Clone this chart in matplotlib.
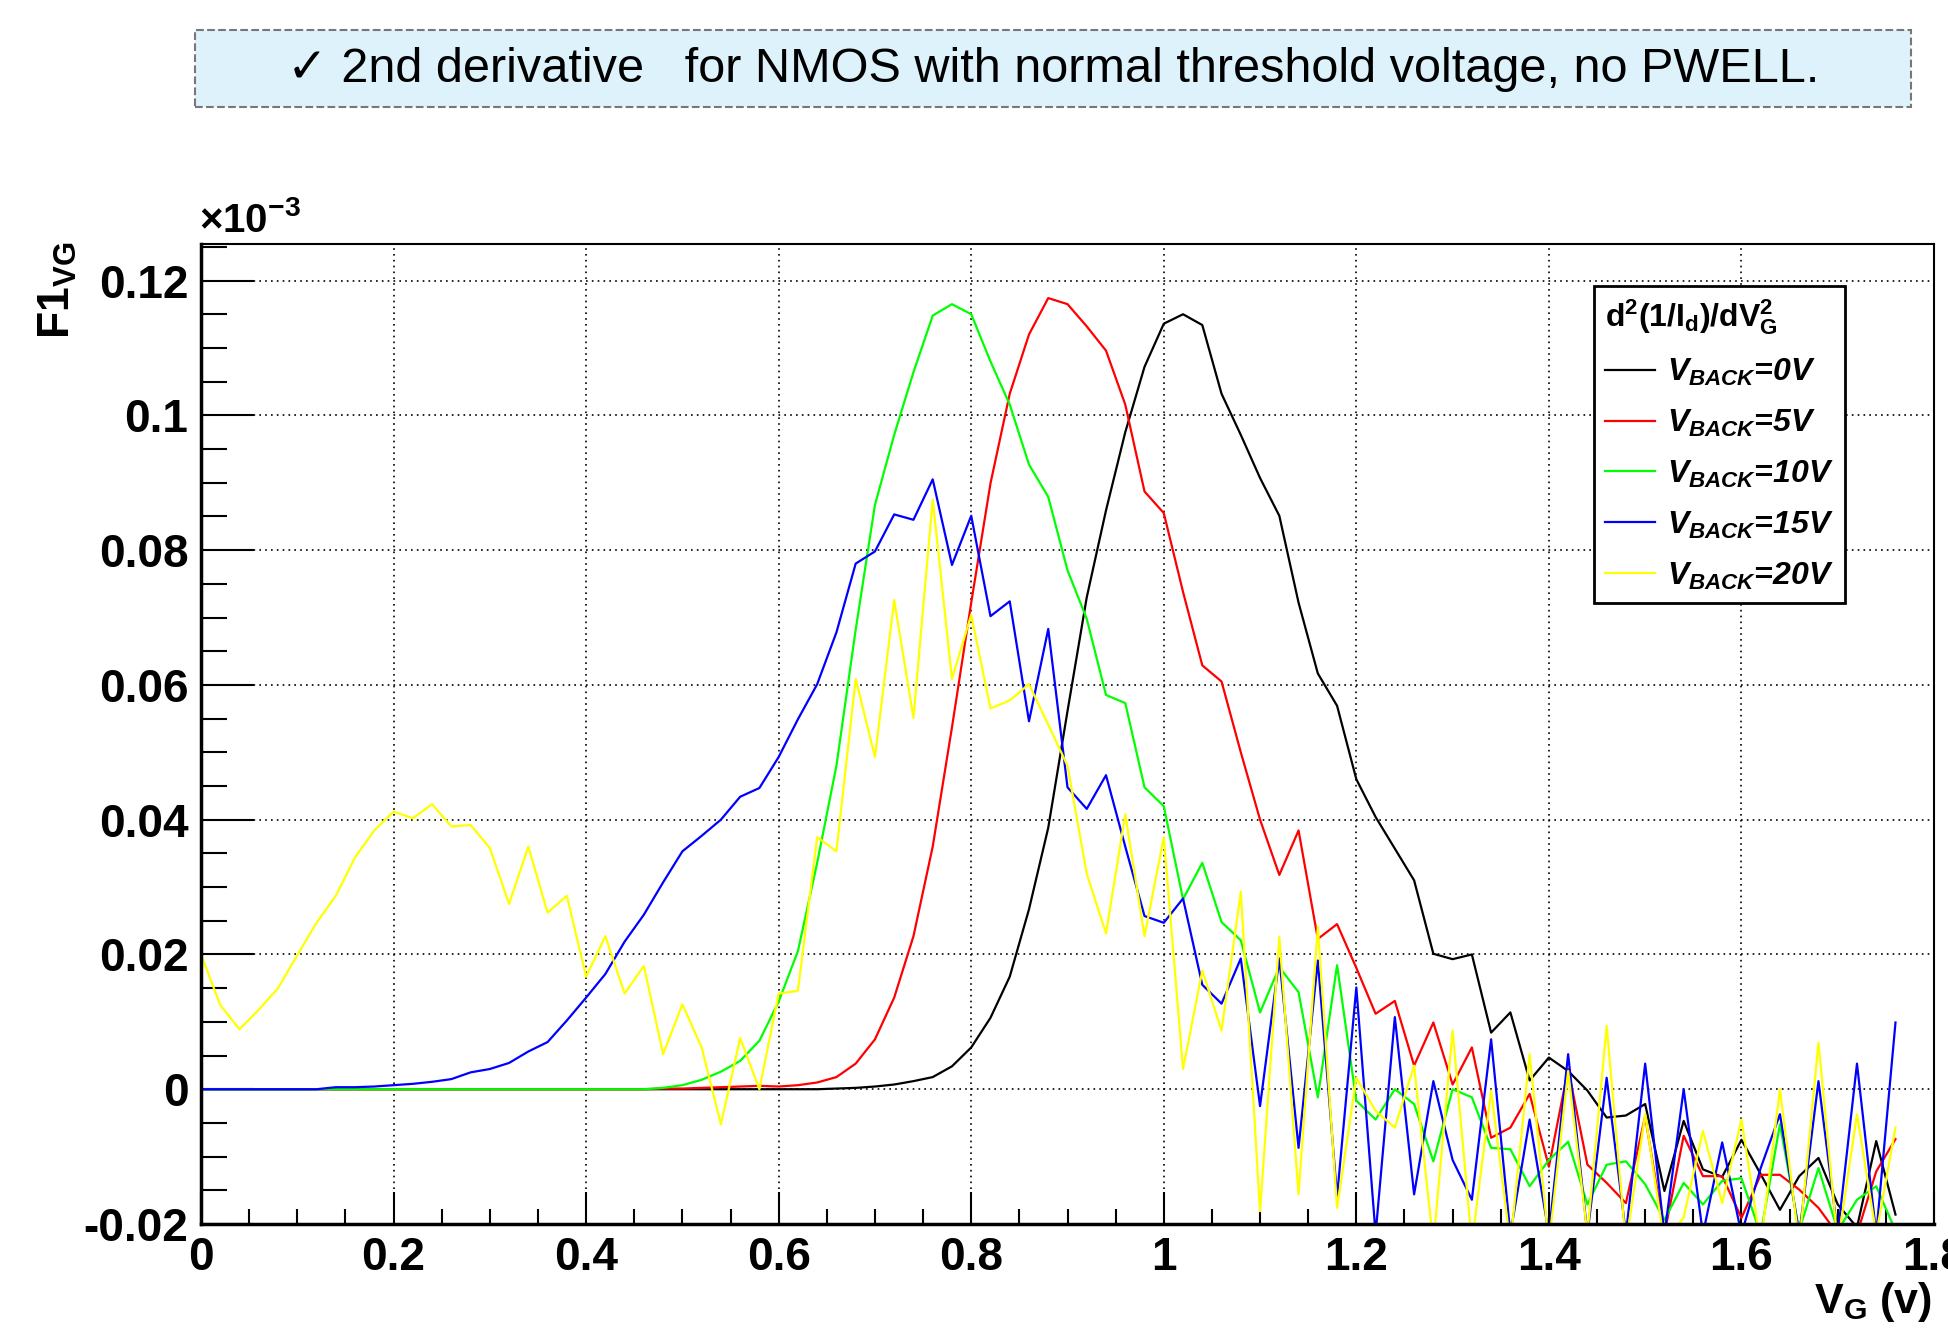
"""
2nd derivative of 1/Id vs VG for NMOS (normal Vt, no PWELL),
for several back-gate voltages.
"""

import matplotlib
matplotlib.use("Agg")
import matplotlib.pyplot as plt
from matplotlib import font_manager
from matplotlib.patches import Rectangle
from matplotlib.ticker import MultipleLocator, FormatStrFormatter

# ---- data ----
vg = [0.00, 0.02, 0.04, 0.06, 0.08, 0.10, 0.12, 0.14, 0.16, 0.18,
      0.20, 0.22, 0.24, 0.26, 0.28, 0.30, 0.32, 0.34, 0.36, 0.38,
      0.40, 0.42, 0.44, 0.46, 0.48, 0.50, 0.52, 0.54, 0.56, 0.58,
      0.60, 0.62, 0.64, 0.66, 0.68, 0.70, 0.72, 0.74, 0.76, 0.78,
      0.80, 0.82, 0.84, 0.86, 0.88, 0.90, 0.92, 0.94, 0.96, 0.98,
      1.00, 1.02, 1.04, 1.06, 1.08, 1.10, 1.12, 1.14, 1.16, 1.18,
      1.20, 1.22, 1.24, 1.26, 1.28, 1.30, 1.32, 1.34, 1.36, 1.38,
      1.40, 1.42, 1.44, 1.46, 1.48, 1.50, 1.52, 1.54, 1.56, 1.58,
      1.60, 1.62, 1.64, 1.66, 1.68, 1.70, 1.72, 1.74, 1.76]

vback_0 = [0, 0, 0, 0, 0, 0, 0, 0, 0, 0,
           0, 0, 0, 0, 0, 0, 0, 0, 0, 0,
           0, 0, 0, 0, 0, 0, 0, 0, 0, 0,
           0.0, 0.0, 0.0, 0.0001, 0.0002, 0.0004, 0.0007, 0.0012, 0.0018, 0.0034,
           0.0062, 0.0106, 0.0167, 0.0267, 0.0388, 0.0561, 0.0730, 0.0859, 0.0975, 0.1072,
           0.1136, 0.1150, 0.1134, 0.1032, 0.0971, 0.0907, 0.0851, 0.0722, 0.0617, 0.0569,
           0.0460, 0.0404, 0.0357, 0.0310, 0.0201, 0.0193, 0.0200, 0.0084, 0.0114, 0.0013,
           0.0047, 0.0027, -0.0002, -0.0042, -0.0039, -0.0022, -0.0151, -0.0047, -0.0119, -0.0130,
           -0.0075, -0.0126, -0.0179, -0.0129, -0.0102, -0.0171, -0.0205, -0.0077, -0.0186]

vback_5 = [0, 0, 0, 0, 0, 0, 0, 0, 0, 0,
           0, 0, 0, 0, 0, 0, 0, 0, 0, 0,
           0, 0, 0, 0, 0.0001, 0.0001, 0.0002, 0.0003, 0.0004, 0.0005,
           0.0004, 0.0006, 0.0010, 0.0018, 0.0038, 0.0074, 0.0136, 0.0227, 0.0360, 0.0537,
           0.0722, 0.0899, 0.1032, 0.1120, 0.1174, 0.1165, 0.1132, 0.1096, 0.1016, 0.0887,
           0.0855, 0.0738, 0.0629, 0.0605, 0.0500, 0.0400, 0.0318, 0.0384, 0.0223, 0.0245,
           0.0180, 0.0112, 0.0131, 0.0035, 0.0099, 0.0007, 0.0062, -0.0072, -0.0057, -0.0007,
           -0.0115, 0.0030, -0.0112, -0.0139, -0.0169, -0.0040, -0.0215, -0.0069, -0.0129, -0.0129,
           -0.0191, -0.0127, -0.0127, -0.0149, -0.0176, -0.0215, -0.0215, -0.0122, -0.0074]

vback_10 = [0, 0, 0, 0, 0, 0, 0, 0, 0, 0,
            0, 0, 0, 0, 0, 0, 0, 0, 0, 0,
            0, 0, 0, 0, 0.0002, 0.0006, 0.0014, 0.0026, 0.0042, 0.0072,
            0.0130, 0.0205, 0.0336, 0.0480, 0.0682, 0.0867, 0.0971, 0.1064, 0.1148, 0.1165,
            0.1150, 0.1080, 0.1016, 0.0927, 0.0879, 0.0770, 0.0698, 0.0585, 0.0573, 0.0448,
            0.0420, 0.0282, 0.0336, 0.0248, 0.0221, 0.0114, 0.0181, 0.0144, -0.0012, 0.0184,
            -0.0017, -0.0045, 0.0000, -0.0022, -0.0107, 0.0000, -0.0012, -0.0087, -0.0089, -0.0144,
            -0.0105, -0.0078, -0.0171, -0.0112, -0.0107, -0.0141, -0.0194, -0.0139, -0.0171, -0.0136,
            -0.0132, -0.0215, -0.0052, -0.0210, -0.0117, -0.0210, -0.0164, -0.0144, -0.0210]

vback_15 = [0, 0, 0, 0, 0, 0, 0, 0.0003, 0.0003, 0.0004,
            0.0006, 0.0008, 0.0011, 0.0015, 0.0025, 0.0030, 0.0039, 0.0056, 0.0070, 0.0102,
            0.0136, 0.0171, 0.0219, 0.0259, 0.0307, 0.0353, 0.0376, 0.0400, 0.0434, 0.0447,
            0.0493, 0.0549, 0.0601, 0.0678, 0.0780, 0.0798, 0.0853, 0.0845, 0.0905, 0.0778,
            0.0851, 0.0702, 0.0724, 0.0546, 0.0683, 0.0448, 0.0416, 0.0466, 0.0360, 0.0257,
            0.0247, 0.0283, 0.0155, 0.0127, 0.0194, -0.0025, 0.0194, -0.0087, 0.0191, -0.0159,
            0.0151, -0.0215, 0.0107, -0.0156, 0.0012, -0.0105, -0.0164, 0.0074, -0.0215, -0.0045,
            -0.0215, 0.0052, -0.0215, 0.0017, -0.0215, 0.0038, -0.0215, 0.0000, -0.0215, -0.0079,
            -0.0215, -0.0117, -0.0037, -0.0215, 0.0012, -0.0215, 0.0038, -0.0215, 0.0099]

vback_20 = [0.0200, 0.0125, 0.0089, 0.0118, 0.0150, 0.0199, 0.0247, 0.0287, 0.0344, 0.0384,
            0.0412, 0.0402, 0.0423, 0.0390, 0.0392, 0.0358, 0.0275, 0.0360, 0.0262, 0.0287,
            0.0167, 0.0227, 0.0142, 0.0183, 0.0052, 0.0126, 0.0062, -0.0052, 0.0076, 0.0000,
            0.0142, 0.0146, 0.0374, 0.0353, 0.0609, 0.0493, 0.0726, 0.0551, 0.0875, 0.0609,
            0.0704, 0.0565, 0.0577, 0.0601, 0.0541, 0.0480, 0.0320, 0.0231, 0.0408, 0.0227,
            0.0374, 0.0030, 0.0176, 0.0087, 0.0293, -0.0181, 0.0226, -0.0156, 0.0241, -0.0176,
            0.0017, -0.0032, -0.0057, 0.0035, -0.0230, 0.0087, -0.0230, -0.0002, -0.0230, 0.0052,
            -0.0230, 0.0027, -0.0215, 0.0094, -0.0230, -0.0037, -0.0230, -0.0190, -0.0062, -0.0169,
            -0.0045, -0.0230, 0.0000, -0.0230, 0.0069, -0.0230, -0.0037, -0.0215, -0.0057]

series = [vback_0, vback_5, vback_10, vback_15, vback_20]
labels = [r'$\mathit{V_{BACK}}$=0V', r'$\mathit{V_{BACK}}$=5V',
          r'$\mathit{V_{BACK}}$=10V', r'$\mathit{V_{BACK}}$=15V',
          r'$\mathit{V_{BACK}}$=20V']
colors = ['#000000', '#ff0000', '#00ff00', '#0000ff', '#ffff00']

header = "\u2713 2nd derivative   for NMOS with normal threshold voltage, no PWELL."

# ---- fonts ----
available = {f.name for f in font_manager.fontManager.ttflist}
plt.rcParams['font.family'] = ['Liberation Sans', 'DejaVu Sans']
plt.rcParams['axes.unicode_minus'] = False
plt.rcParams['mathtext.fontset'] = 'custom'
plt.rcParams['mathtext.rm'] = 'Liberation Sans:bold'
plt.rcParams['mathtext.bf'] = 'Liberation Sans:bold'
plt.rcParams['mathtext.it'] = 'Liberation Sans:bold:italic'
plt.rcParams['mathtext.default'] = 'bf'

if 'Liberation Sans Narrow' in available:
    header_family = ['Liberation Sans Narrow', 'DejaVu Sans']
    header_size = 40
else:
    header_family = ['Liberation Sans', 'DejaVu Sans']
    header_size = 35

W, H = 1948, 1331
fig = plt.figure(figsize=(W / 100, H / 100), dpi=100)
ax = fig.add_axes([201 / W, 107 / H, 1733 / W, 980.5 / H])

# Header box
fig.patches.append(Rectangle((195 / W, 1 - 107 / H), 1716 / W, 77 / H,
                             transform=fig.transFigure, facecolor='#ddf2fb',
                             edgecolor='#777777', linestyle='--', lw=1.5))
fig.text(1053 / W, 1 - 69 / H, header, ha='center', va='center',
         fontsize=header_size, family=header_family)

# Curves
for y, lab, col in zip(series, labels, colors):
    ax.plot(vg, y, color=col, lw=1.6, label=lab)

ax.set_xlim(0, 1.8)
ax.set_ylim(-0.02, 0.1255)

ax.xaxis.set_major_locator(MultipleLocator(0.2))
ax.xaxis.set_minor_locator(MultipleLocator(0.05))
ax.yaxis.set_major_locator(MultipleLocator(0.02))
ax.yaxis.set_minor_locator(MultipleLocator(0.005))
ax.xaxis.set_major_formatter(FormatStrFormatter('%g'))
ax.yaxis.set_major_formatter(FormatStrFormatter('%g'))

ax.tick_params(axis='both', which='both', direction='in', width=1.5,
               labelsize=33, pad=9)
ax.tick_params(axis='y', which='major', length=38)
ax.tick_params(axis='y', which='minor', length=19)
ax.tick_params(axis='x', which='major', length=23)
ax.tick_params(axis='x', which='minor', length=11)
for lbl in ax.get_xticklabels() + ax.get_yticklabels():
    lbl.set_fontweight('bold')

ax.grid(True, which='major', color='black', linestyle=(0, (1, 2.5)), lw=1.2)

for side in ['left', 'bottom']:
    ax.spines[side].set_linewidth(2.5)
for side in ['top', 'right']:
    ax.spines[side].set_linewidth(1.5)

# Axis titles
fig.text(58 / W, 1 - 242 / H, 'F1$_{VG}$', rotation=90, ha='center',
         va='top', fontsize=32, fontweight='bold')
fig.text(199 / W, 1 - 240 / H, '\u00d710$^{-3}$', ha='left', va='bottom',
         fontsize=29, fontweight='bold')
fig.text(1932 / W, 1 - 1280 / H, 'V$_{G}$ (v)', ha='right', va='top',
         fontsize=31, fontweight='bold')

# Legend
leg = ax.legend(loc='upper left', bbox_to_anchor=(1594 / W, 1 - 286 / H),
                bbox_transform=fig.transFigure, borderaxespad=0,
                title=r'$\mathbf{d^{2}(1/I_{d})/dV^{2}_{G}}$',
                title_fontsize=23, fontsize=23, frameon=True,
                fancybox=False, edgecolor='black', handlelength=1.55,
                handletextpad=0.4, labelspacing=0.62, borderpad=0.35,
                alignment='left')
for txt in leg.get_texts():
    txt.set_fontweight('bold')
    txt.set_fontstyle('italic')
leg.get_frame().set_linewidth(2)
leg.get_frame().set_alpha(1)

fig.savefig('out.png', dpi=100)
